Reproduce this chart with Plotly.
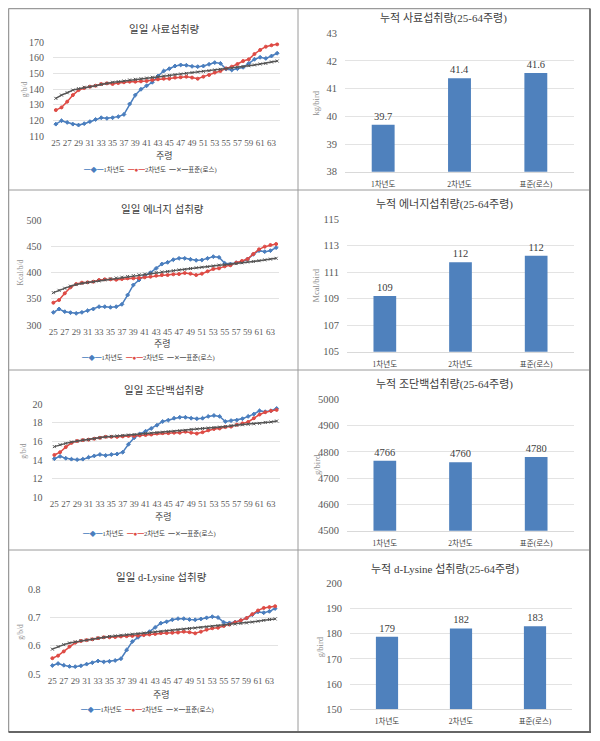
import plotly.graph_objects as go

# page body has an 8px default margin: figure is sized to fit the window
OFF = 8
W, H = 600 - OFF, 741 - OFF
weeks = list(range(25, 65))
tick_weeks = list(range(25, 64, 2))
series_names = ["1차년도", "2차년도", "표준(로스)"]
bar_cats = ["1차년도", "2차년도", "표준(로스)"]

feed_y1 = [117.6, 119.8, 118.7, 117.6, 117.0, 117.9, 119.2, 120.6, 121.7, 121.3,
           121.7, 122.4, 123.8, 130.5, 136.2, 139.9, 142.2, 144.4, 148.4, 151.6,
           153.1, 154.8, 155.5, 155.3, 154.6, 154.4, 154.8, 155.9, 157.0, 156.5,
           152.9, 152.3, 153.1, 154.0, 156.5, 159.1, 160.4, 159.7, 161.2, 163.0]
feed_y2 = [126.6, 128.3, 132.0, 136.2, 139.4, 140.7, 141.6, 142.2, 143.3, 143.7,
           143.3, 143.9, 144.4, 144.8, 144.8, 145.0, 145.2, 145.9, 146.3, 146.7,
           146.7, 147.4, 147.6, 148.0, 147.4, 146.7, 148.0, 149.1, 150.6, 151.6,
           153.3, 154.4, 156.1, 158.0, 159.1, 162.5, 165.1, 167.2, 168.1, 168.7]
feed_std = [134.1, 136.2, 137.7, 139.4, 140.3, 141.2, 141.6, 142.2, 143.1, 143.7,
            144.4, 144.8, 145.2, 145.9, 146.3, 146.7, 147.1, 147.6, 148.0, 148.4,
            148.8, 149.3, 149.7, 150.1, 150.6, 151.0, 151.4, 151.8, 152.3, 152.7,
            153.1, 153.5, 154.0, 154.4, 155.0, 155.5, 156.1, 156.5, 157.4, 158.0]

energy_y1 = [324.1, 330.5, 325.4, 323.5, 322.2, 324.1, 327.3, 330.5, 334.9, 334.9,
             333.7, 334.9, 339.4, 357.1, 376.2, 385.7, 394.0, 399.7, 407.9, 416.2,
             419.4, 424.4, 427.0, 427.0, 425.1, 423.2, 423.8, 427.0, 430.2, 428.9,
             417.5, 416.2, 418.7, 420.6, 425.7, 434.6, 441.6, 439.7, 441.6, 447.3]
energy_y2 = [342.5, 347.6, 360.3, 371.7, 378.1, 380.6, 381.3, 382.5, 385.7, 387.0,
             387.0, 386.3, 387.6, 388.9, 388.9, 389.5, 390.8, 392.1, 394.0, 395.2,
             395.2, 396.5, 397.1, 399.0, 397.8, 395.2, 397.8, 402.2, 406.7, 407.9,
             411.7, 413.7, 418.7, 421.9, 425.7, 435.2, 444.1, 449.2, 452.4, 454.3]
energy_std = [361.6, 366.0, 370.0, 374.0, 377.0, 379.5, 381.0, 382.5, 384.0, 386.0,
              388.0, 389.5, 391.0, 392.5, 394.0, 395.5, 397.0, 398.5, 400.0, 401.0,
              402.0, 403.5, 405.0, 406.0, 407.5, 409.0, 410.0, 411.0, 412.5, 414.0,
              415.0, 416.0, 417.0, 418.5, 420.0, 421.0, 422.5, 424.0, 425.5, 427.0]

prot_y1 = [14.15, 14.4, 14.2, 14.1, 14.05, 14.1, 14.3, 14.45, 14.6, 14.5,
           14.6, 14.65, 14.85, 15.7, 16.4, 16.8, 17.1, 17.4, 17.75, 18.15,
           18.3, 18.5, 18.6, 18.6, 18.5, 18.45, 18.5, 18.7, 18.8, 18.7,
           18.15, 18.25, 18.3, 18.45, 18.7, 18.95, 19.3, 19.2, 19.3, 19.55]
prot_y2 = [14.55, 14.85, 15.4, 15.85, 16.05, 16.15, 16.2, 16.3, 16.4, 16.5,
           16.5, 16.5, 16.55, 16.6, 16.6, 16.65, 16.7, 16.75, 16.85, 16.9,
           16.9, 16.95, 16.95, 17.05, 16.95, 16.85, 17.0, 17.2, 17.35, 17.4,
           17.55, 17.6, 17.8, 17.95, 18.1, 18.5, 18.9, 19.15, 19.3, 19.4]
prot_std = [15.45, 15.65, 15.8, 15.95, 16.05, 16.15, 16.2, 16.3, 16.4, 16.5,
            16.55, 16.6, 16.65, 16.7, 16.75, 16.8, 16.85, 16.9, 16.95, 17.0,
            17.05, 17.1, 17.15, 17.2, 17.3, 17.35, 17.4, 17.45, 17.5, 17.55,
            17.6, 17.7, 17.75, 17.8, 17.85, 17.9, 17.95, 18.05, 18.1, 18.2]

lys_y1 = [0.530, 0.537, 0.531, 0.527, 0.526, 0.529, 0.535, 0.540, 0.546, 0.543,
          0.545, 0.548, 0.554, 0.585, 0.615, 0.630, 0.640, 0.650, 0.665, 0.680,
          0.685, 0.692, 0.696, 0.696, 0.693, 0.692, 0.695, 0.699, 0.703, 0.700,
          0.683, 0.681, 0.684, 0.690, 0.698, 0.710, 0.720, 0.717, 0.722, 0.732]
lys_y2 = [0.556, 0.565, 0.580, 0.597, 0.611, 0.617, 0.620, 0.623, 0.627, 0.630,
          0.630, 0.631, 0.633, 0.634, 0.635, 0.636, 0.638, 0.640, 0.642, 0.645,
          0.645, 0.646, 0.647, 0.650, 0.648, 0.644, 0.650, 0.657, 0.662, 0.664,
          0.670, 0.675, 0.683, 0.690, 0.698, 0.712, 0.725, 0.734, 0.737, 0.740]
lys_std = [0.588, 0.597, 0.604, 0.610, 0.614, 0.618, 0.620, 0.623, 0.627, 0.630,
           0.633, 0.635, 0.637, 0.639, 0.641, 0.643, 0.645, 0.647, 0.649, 0.651,
           0.653, 0.655, 0.657, 0.659, 0.661, 0.663, 0.665, 0.667, 0.669, 0.671,
           0.673, 0.675, 0.677, 0.679, 0.681, 0.684, 0.687, 0.690, 0.693, 0.695]

cum_feed = [39.7, 41.38, 41.57]
cum_feed_lbl = ["39.7", "41.4", "41.6"]
cum_energy = [109.2, 111.75, 112.25]
cum_energy_lbl = ["109", "112", "112"]
cum_prot = [4766, 4760, 4780]
cum_prot_lbl = ["4766", "4760", "4780"]
cum_lys = [178.8, 182.1, 183.0]
cum_lys_lbl = ["179", "182", "183"]

FONT = "Liberation Serif, Noto Sans CJK KR, serif"
COL_BLUE = "#4A7EBE"
COL_RED = "#DE4B45"
COL_STD = "#555555"
COL_BAR = "#4F81BD"
TXT = "#404040"
TICK = "#595959"
GRID = "#E3E3E3"


def px(x):
    return max(x - OFF, 0.5) / W


def py(y):
    return 1 - max(y - OFF, 0.5) / H


fig = go.Figure()
annotations = []
shapes = []

line_panels = [
    dict(title="일일 사료섭취량", ytitle="g/b/d", data=(feed_y1, feed_y2, feed_std),
         yr=[110, 170], dt=10, fmt="", x=(53, 280), y=(42.3, 136), ttl=29, xt=155, lg=169, yt=24),
    dict(title="일일 에너지 섭취량", ytitle="Kcal/b/d", data=(energy_y1, energy_y2, energy_std),
         yr=[300, 500], dt=50, fmt="", x=(50.5, 279), y=(220, 325), ttl=209, xt=343, lg=357, yt=20),
    dict(title="일일 조단백섭취량", ytitle="g/b/d", data=(prot_y1, prot_y2, prot_std),
         yr=[10, 20], dt=2, fmt="", x=(51.5, 279.5), y=(404.3, 497.3), ttl=390, xt=516, lg=533, yt=24),
    dict(title="일일 d-Lysine 섭취량", ytitle="g/b/d", data=(lys_y1, lys_y2, lys_std),
         yr=[0.5, 0.8], dt=0.1, fmt=".1f", x=(49.5, 278), y=(589.3, 674), ttl=577, xt=694, lg=709, yt=21),
]

bar_panels = [
    dict(title="누적 사료섭취량(25-64주령)", ytitle="kg/bird", vals=cum_feed, lbl=cum_feed_lbl,
         yr=[38, 43], dt=1, x=(345, 574), y=(33.3, 171.7), ttl=18, yt=315),
    dict(title="누적 에너지섭취량(25-64주령)", ytitle="Mcal/bird", vals=cum_energy, lbl=cum_energy_lbl,
         yr=[105, 115], dt=2, x=(347, 574), y=(219.3, 351.7), ttl=204, yt=315),
    dict(title="누적 조단백섭취량(25-64주령)", ytitle="g/bird", vals=cum_prot, lbl=cum_prot_lbl,
         yr=[4500, 5000], dt=100, x=(347, 574), y=(399.3, 530.7), ttl=384, yt=317),
    dict(title="누적 d-Lysine 섭취량(25-64주령)", ytitle="g/bird", vals=cum_lys, lbl=cum_lys_lbl,
         yr=[150, 200], dt=10, x=(350, 572), y=(583.3, 709.3), ttl=569, yt=320),
]


def ann(text, x, y, size, color=TXT, angle=0):
    return dict(text=text, x=px(x), y=py(y), xref="paper", yref="paper",
                xanchor="center", yanchor="middle", showarrow=False, textangle=angle,
                font=dict(family=FONT, size=size, color=color))


layout_axes = {}
ax_i = 0
colors = [COL_BLUE, COL_RED, COL_STD]
symbols = ["diamond", "circle", "x-thin-open"]

for p in line_panels:
    ax_i += 1
    xa = "x" if ax_i == 1 else f"x{ax_i}"
    ya = "y" if ax_i == 1 else f"y{ax_i}"
    for s, name in enumerate(series_names):
        fig.add_trace(go.Scatter(
            x=weeks, y=p["data"][s], name=name, mode="lines+markers",
            line=dict(color=colors[s], width=1.5),
            marker=dict(color=colors[s], size=3, symbol=symbols[s],
                        line=dict(color=colors[s], width=1)),
            xaxis=xa, yaxis=ya, showlegend=False))
    layout_axes[f"xaxis{ax_i}"] = dict(
        domain=[px(p["x"][0]), px(p["x"][1])], anchor=ya, range=[24.5, 64.5],
        tickmode="array", tickvals=tick_weeks, showgrid=False, zeroline=False,
        showline=False, automargin=False, tickfont=dict(family=FONT, size=9, color=TICK),
        ticks="", tickangle=0)
    layout_axes[f"yaxis{ax_i}"] = dict(
        domain=[py(p["y"][1]), py(p["y"][0])], anchor=xa, range=p["yr"], dtick=p["dt"],
        tick0=p["yr"][0], tickformat=p["fmt"], showgrid=True, gridcolor=GRID, gridwidth=1,
        zeroline=False, showline=False, automargin=False,
        tickfont=dict(family=FONT, size=10, color=TICK),
        ticks="outside", ticklen=6, tickcolor="rgba(0,0,0,0)")
    cx = (p["x"][0] + p["x"][1]) / 2
    annotations.append(ann(p["title"], cx - 2, p["ttl"], 10.5))
    annotations.append(ann("주령", cx - 2, p["xt"], 9))
    annotations.append(ann(p["ytitle"], p["yt"], (p["y"][0] + p["y"][1]) / 2, 7.5, "#8C8C8C", -90))
    leg = (f'<span style="color:{COL_BLUE}">━◆━</span>{series_names[0]}  '
           f'<span style="color:{COL_RED}">━●━</span>{series_names[1]}  '
           f'<span style="color:{COL_STD}">━✕━</span>{series_names[2]}')
    annotations.append(ann(leg, cx - 16, p["lg"], 6.5))

for p in bar_panels:
    ax_i += 1
    xa = f"x{ax_i}"
    ya = f"y{ax_i}"
    fig.add_trace(go.Bar(
        x=bar_cats, y=p["vals"], text=p["lbl"], textposition="outside",
        texttemplate="%{text}", cliponaxis=False,
        textfont=dict(family=FONT, size=10.5, color=TXT),
        marker=dict(color=COL_BAR, line=dict(width=0)),
        width=0.3, xaxis=xa, yaxis=ya, showlegend=False))
    layout_axes[f"xaxis{ax_i}"] = dict(
        domain=[px(p["x"][0]), px(p["x"][1])], anchor=ya, showgrid=False, zeroline=False,
        showline=True, linecolor="#D9D9D9", linewidth=1, automargin=False,
        tickfont=dict(family=FONT, size=7.5, color=TXT),
        ticks="outside", ticklen=5, tickcolor="rgba(0,0,0,0)", tickangle=0)
    layout_axes[f"yaxis{ax_i}"] = dict(
        domain=[py(p["y"][1]), py(p["y"][0])], anchor=xa, range=p["yr"], dtick=p["dt"],
        tick0=p["yr"][0], showgrid=True, gridcolor=GRID, gridwidth=1, zeroline=False,
        showline=False, automargin=False, tickfont=dict(family=FONT, size=10.5, color=TICK),
        ticks="outside", ticklen=5, tickcolor="rgba(0,0,0,0)")
    cx = (p["x"][0] + p["x"][1]) / 2
    annotations.append(ann(p["title"], cx - 16, p["ttl"], 11))
    annotations.append(ann(p["ytitle"], p["yt"], (p["y"][0] + p["y"][1]) / 2, 8.5, "#8C8C8C", -90))

# table borders
border = "#9A9A9A"
for yy in (190, 370, 550):
    shapes.append(dict(type="line", xref="paper", yref="paper", x0=px(5), x1=px(590),
                       y0=py(yy), y1=py(yy), line=dict(color=border, width=1)))
shapes.append(dict(type="line", xref="paper", yref="paper", x0=px(298), x1=px(298),
                   y0=py(4), y1=py(732), line=dict(color=border, width=1)))
shapes.append(dict(type="line", xref="paper", yref="paper", x0=px(5), x1=px(590),
                   y0=py(4), y1=py(4), line=dict(color=border, width=1.5)))
shapes.append(dict(type="line", xref="paper", yref="paper", x0=px(5), x1=px(5),
                   y0=py(4), y1=py(732), line=dict(color=border, width=1.5)))
shapes.append(dict(type="line", xref="paper", yref="paper", x0=px(590), x1=px(590),
                   y0=py(4), y1=py(732), line=dict(color="#777777", width=2)))
shapes.append(dict(type="line", xref="paper", yref="paper", x0=px(5), x1=px(591),
                   y0=py(732), y1=py(732), line=dict(color="#666666", width=2)))

fig.update_layout(
    width=W, height=H, margin=dict(l=0, r=0, t=0, b=0, pad=0, autoexpand=False),
    paper_bgcolor="white", plot_bgcolor="white",
    font=dict(family=FONT, color=TXT),
    annotations=annotations, shapes=shapes, bargap=0.7,
    **layout_axes)

fig.write_html("out.html")
